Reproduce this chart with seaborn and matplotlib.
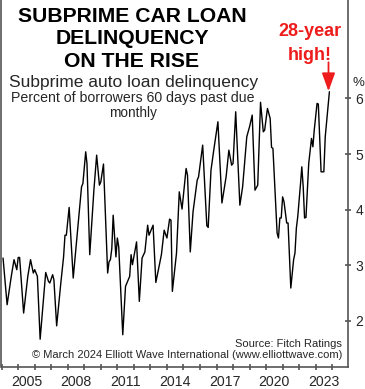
import numpy as np
import pandas as pd
import matplotlib
matplotlib.use("Agg")
import matplotlib.pyplot as plt
import matplotlib.dates as mdates
import seaborn as sns

# ---- data (month, % of borrowers 60+ days past due) ----
months = [
    "2004-02", "2004-05", "2004-08", "2004-10", "2004-12", "2005-01", "2005-02", "2005-05",
    "2005-08", "2005-10", "2005-12", "2006-01", "2006-03", "2006-05", "2006-07", "2006-09",
    "2006-11", "2006-12", "2007-02", "2007-03", "2007-05", "2007-08", "2007-10", "2007-11",
    "2007-12", "2008-02", "2008-05", "2008-08", "2008-11", "2008-12", "2009-02", "2009-03",
    "2009-05", "2009-08", "2009-10", "2009-12", "2010-01", "2010-03", "2010-06", "2010-07",
    "2010-08", "2010-09", "2010-10", "2010-12", "2011-01", "2011-02", "2011-05", "2011-07",
    "2011-10", "2011-11", "2011-12", "2012-03", "2012-05", "2012-07", "2012-09", "2012-11",
    "2012-12", "2013-03", "2013-05", "2013-09", "2013-11", "2014-01", "2014-03", "2014-04",
    "2014-05", "2014-08", "2014-10", "2014-12", "2015-03", "2015-04", "2015-06", "2015-08",
    "2015-11", "2015-12", "2016-03", "2016-06", "2016-07", "2016-09", "2016-11", "2017-02",
    "2017-05", "2017-08", "2017-10", "2017-12", "2018-01", "2018-03", "2018-06", "2018-08",
    "2018-11", "2019-01", "2019-03", "2019-05", "2019-07", "2019-09", "2019-11", "2019-12",
    "2020-02", "2020-04", "2020-05", "2020-06", "2020-09", "2020-10", "2020-11", "2020-12",
    "2021-01", "2021-02", "2021-04", "2021-05", "2021-07", "2021-09", "2021-10", "2021-11",
    "2021-12", "2022-02", "2022-03", "2022-04", "2022-05", "2022-06", "2022-08", "2022-10",
    "2022-11", "2022-12", "2023-02", "2023-03", "2023-05", "2023-07", "2023-08", "2023-11",
]
delinquency = [
    3.13, 2.29, 2.80, 3.10, 2.92, 3.14, 3.14, 2.14,
    2.80, 3.10, 2.86, 2.92, 2.80, 1.67, 2.26, 2.87,
    2.71, 2.68, 2.83, 2.74, 1.91, 2.68, 3.15, 3.54,
    3.54, 4.04, 2.77, 3.58, 4.41, 4.47, 5.04, 4.83,
    3.19, 4.35, 4.98, 4.44, 4.50, 4.82, 2.86, 3.06,
    3.10, 3.30, 3.90, 3.15, 3.49, 3.33, 1.75, 2.62,
    2.80, 3.19, 3.01, 3.42, 2.35, 3.13, 3.24, 3.72,
    3.54, 3.72, 2.69, 3.19, 3.63, 3.49, 3.83, 3.81,
    2.53, 3.22, 4.32, 4.01, 4.74, 4.62, 3.24, 3.96,
    4.53, 4.59, 5.16, 3.71, 3.68, 4.71, 5.07, 5.58,
    4.12, 4.59, 5.07, 4.80, 4.83, 5.76, 4.08, 4.41,
    5.31, 5.49, 5.70, 4.35, 4.44, 5.93, 5.40, 5.43,
    5.82, 5.64, 5.12, 5.10, 3.58, 3.49, 3.85, 3.85,
    4.23, 4.14, 3.76, 3.76, 2.59, 3.10, 3.22, 3.67,
    3.87, 4.47, 4.77, 4.41, 3.85, 3.86, 4.83, 5.28,
    5.13, 5.43, 5.91, 5.90, 4.68, 4.68, 5.31, 6.12,
]
year_labels = ["2005", "2008", "2011", "2014", "2017", "2020", "2023"]
y_ticks = [2, 3, 4, 5, 6]

df = pd.DataFrame({"date": pd.to_datetime(months), "value": delinquency})

# ---- style ----
sns.set_style("white")
plt.rcParams["font.family"] = ["Liberation Sans", "DejaVu Sans"]

W, H = 365, 389
fig = plt.figure(figsize=(W / 100, H / 100), dpi=100)
ax = fig.add_axes([1.5 / W, 1 - 367 / H, (348 - 1.5) / W, 367 / H])

sns.lineplot(data=df, x="date", y="value", ax=ax, color="black", linewidth=1.0)

ax.set_xlim(pd.Timestamp("2003-12-29"), pd.Timestamp("2024-12-16"))
ax.set_ylim(1.17, 7.77)
ax.set_xlabel("")
ax.set_ylabel("")

spine_col = "#555555"
for s in ["left", "right", "bottom"]:
    ax.spines[s].set_visible(True)
    ax.spines[s].set_color(spine_col)
    ax.spines[s].set_linewidth(1.2)
ax.spines["top"].set_visible(False)

# y axis on the right
ax.yaxis.tick_right()
ax.set_yticks(y_ticks)
ax.set_yticklabels([str(v) for v in y_ticks])
ax.tick_params(axis="y", which="major", direction="inout", length=5, width=1.2,
               color=spine_col, labelsize=10, pad=3, right=True, left=False)

# x axis: ticks at each year start, labels centred mid-year
ax.xaxis.set_major_locator(mdates.YearLocator(1))
ax.xaxis.set_major_formatter(plt.NullFormatter())
label_pos = [pd.Timestamp(f"{y}-07-01") for y in year_labels]
ax.set_xticks(label_pos, minor=True)
ax.set_xticklabels(year_labels, minor=True)
ax.tick_params(axis="x", which="major", direction="inout", length=5, width=1.2,
               color=spine_col, bottom=True)
ax.tick_params(axis="x", which="minor", length=0, labelsize=10.2, pad=5.5, bottom=True)

def fx(px):
    return px / W

def fy(py):
    return 1 - py / H

# title
for txt, base in [("SUBPRIME CAR LOAN", 22), ("DELINQUENCY", 44.5), ("ON THE RISE", 67)]:
    fig.text(fx(132), fy(base), txt, ha="center", va="baseline",
             fontsize=15.2, fontweight="bold", color="black")

fig.text(fx(133.5), fy(87), "Subprime auto loan delinquency", ha="center",
         va="baseline", fontsize=12.5)
fig.text(fx(133), fy(102), "Percent of borrowers 60 days past due", ha="center",
         va="baseline", fontsize=10.2)
fig.text(fx(132.7), fy(117), "monthly", ha="center", va="baseline", fontsize=9.8)

# callout
fig.text(fx(310), fy(36), "28-year", ha="center", va="baseline", fontsize=13,
         fontweight="bold", color="#ee1c1c")
fig.text(fx(310), fy(60), "high!", ha="center", va="baseline", fontsize=13,
         fontweight="bold", color="#ee1c1c")
peak_date = df["date"].iloc[-1]
ax.annotate("", xy=(peak_date - pd.Timedelta(days=20), 6.13),
            xytext=(peak_date - pd.Timedelta(days=20), 6.65),
            arrowprops=dict(arrowstyle="-|>,head_length=0.55,head_width=0.2",
                            color="#ee1c1c", lw=1.3, mutation_scale=20,
                            shrinkA=0, shrinkB=0))

fig.text(fx(358.5), fy(86.5), "%", ha="center", va="baseline", fontsize=9.5)

# source
fig.text(fx(342), fy(347), "Source: Fitch Ratings", ha="right", va="baseline", fontsize=8)
fig.text(fx(342), fy(358), "\u00a9 March 2024 Elliott Wave International (www.elliottwave.com)",
         ha="right", va="baseline", fontsize=8)

fig.savefig("out.png", dpi=100)
